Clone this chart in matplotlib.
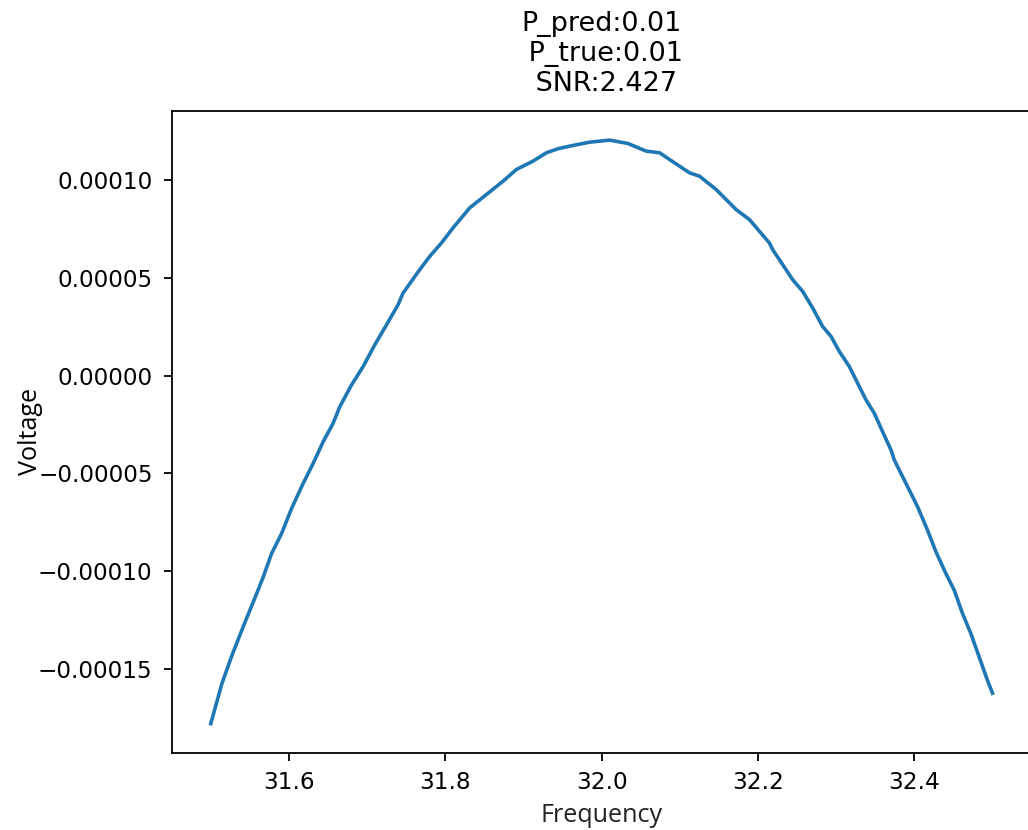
import matplotlib
matplotlib.use("Agg")
import matplotlib.pyplot as plt
import numpy as np

# Frequency values
frequency = [
    31.5000, 31.5143, 31.5271, 31.5437, 31.5587, 31.5671, 31.5778, 31.5906,
    31.6034, 31.6182, 31.6310, 31.6438, 31.6565, 31.6651, 31.6801, 31.6949,
    31.7098, 31.7248, 31.7396, 31.7460, 31.7673, 31.7801, 31.7951, 31.8099,
    31.8312, 31.8526, 31.8738, 31.8909, 31.9121, 31.9293, 31.9441, 31.9590,
    31.9846, 32.0102, 32.0335, 32.0571, 32.0741, 32.0868, 32.1124, 32.1252,
    32.1465, 32.1721, 32.1891, 32.2146, 32.2188, 32.2316, 32.2444, 32.2572,
    32.2700, 32.2827, 32.2935, 32.3041, 32.3169, 32.3254, 32.3382, 32.3488,
    32.3594, 32.3702, 32.3744, 32.3893, 32.4042, 32.4169, 32.4277, 32.4404,
    32.4511, 32.4617, 32.4724, 32.4830, 32.4936, 32.5000,
]

# Voltage values in units of 1e-5
voltage_e5 = [
    -17.81, -15.76, -14.32, -12.63, -11.16, -10.31, -9.107, -8.082,
    -6.800, -5.518, -4.492, -3.384, -2.441, -1.590, -0.477, 0.4615,
    1.574, 2.600, 3.626, 4.225, 5.420, 6.102, 6.789, 7.559,
    8.584, 9.266, 9.948, 10.548, 10.974, 11.405, 11.610, 11.743,
    11.948, 12.051, 11.882, 11.487, 11.405, 11.061, 10.379, 10.205,
    9.523, 8.497, 7.984, 6.789, 6.446, 5.677, 4.907, 4.308,
    3.456, 2.513, 2.000, 1.231, 0.4615, -0.2205, -1.246, -1.928,
    -2.872, -3.810, -4.323, -5.518, -6.718, -7.913, -9.025, -10.133,
    -10.989, -12.184, -13.210, -14.410, -15.605, -16.256,
]

xticks = [31.6, 31.8, 32.0, 32.2, 32.4]
yticks = [-0.00015, -0.00010, -0.00005, 0.0, 0.00005, 0.00010]
title_text = "P_pred:0.01\n P_true:0.01\n SNR:2.427"

dpi = 162
fig = plt.figure(figsize=(1028 / dpi, 830 / dpi), dpi=dpi)
ax = fig.add_axes([0.1670, 0.0931, 0.8365, 0.7732])

v = np.array(voltage_e5) * 1e-5
ax.plot(frequency, v, color="#1f77b4", linewidth=1.6)

ax.set_title(title_text, pad=9)
ax.set_xlabel("Frequency", family=["Open Sans", "DejaVu Sans"], fontsize=11.2,
              color="#222222")
ax.set_ylabel("Voltage", family=["Open Sans", "DejaVu Sans"], fontsize=11.2)
ax.yaxis.set_label_coords(-0.15, 0.5)
ax.set_xticks(xticks)
ax.set_yticks(yticks)
ax.tick_params(axis="y", labelsize=10.3, pad=5)
ax.tick_params(axis="x", labelsize=10.3, pad=4.5)

fig.savefig("out.png", dpi=dpi)
